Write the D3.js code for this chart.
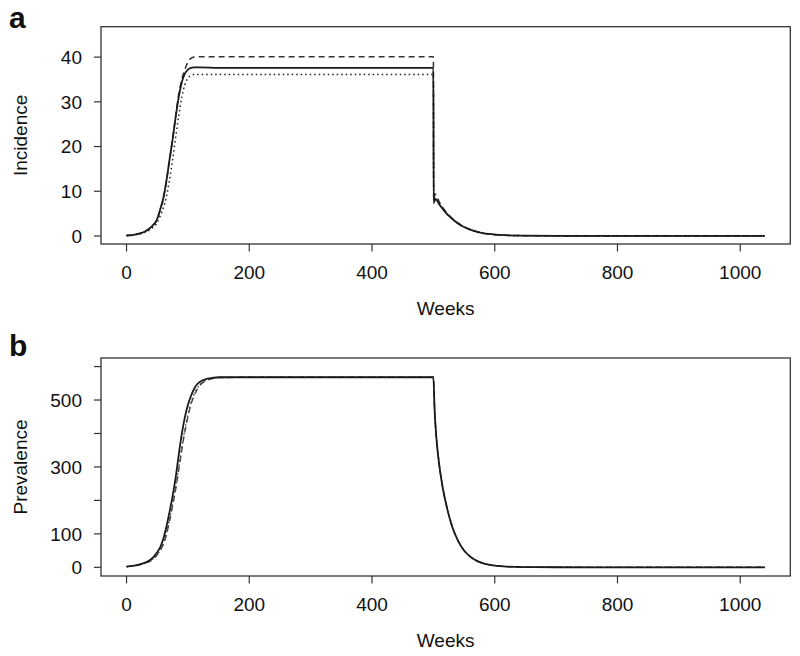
<!DOCTYPE html>
<html>
<head>
<meta charset="utf-8">
<script src="https://cdn.jsdelivr.net/npm/d3@7"></script>
<style>
  html, body { margin: 0; padding: 0; background: #fff; }
  svg { display: block; }
  text { font-family: "Liberation Sans", Arial, Helvetica, sans-serif; fill: #111; }
</style>
</head>
<body>
<svg id="chart" width="800" height="656"></svg>
<script>
// ---------- DATA ----------
const xTicks = [0, 200, 400, 600, 800, 1000];

// Panel a: Incidence
const incWeeks  = [0,10,20,30,40,50,55,60,65,70,75,80,85,90,95,100,105,110,120,150,300,500,500.5,503,510,520,530,540,550,560,570,580,590,600,620,650,700,800,1040];
const incSolid  = [0.1,0.2,0.5,1.0,2.0,3.8,6.0,8.5,12.3,17.0,21.5,26.5,31.0,34.3,36.3,37.2,37.6,37.7,37.7,37.6,37.6,37.6,7.3,8.3,7.0,5.2,3.9,2.8,2.0,1.4,0.95,0.65,0.45,0.3,0.15,0.06,0.02,0,0];
const incDashed = [0.1,0.2,0.5,1.0,2.0,3.7,5.9,8.3,12.2,16.9,21.6,26.8,31.7,35.0,37.2,38.9,39.7,40.0,40.1,40.1,40.1,40.1,8.0,9.4,7.5,5.5,4.0,2.9,2.05,1.45,1.0,0.68,0.46,0.31,0.15,0.06,0.02,0,0];
const incDotted = [0.1,0.2,0.4,0.8,1.6,3.0,4.5,6.3,8.8,12.5,17.0,22.0,26.8,31.0,33.8,35.3,35.9,36.1,36.1,36.1,36.1,36.1,7.6,8.4,7.1,5.3,3.9,2.8,2.0,1.4,0.95,0.65,0.45,0.3,0.15,0.06,0.02,0,0];
const incTicks  = [0, 10, 20, 30, 40];

// Panel b: Prevalence
const prevWeeks  = [0,10,20,30,40,50,55,60,65,70,75,80,85,90,95,100,105,110,115,120,130,140,150,200,300,500,502,505,510,515,520,530,540,550,560,570,580,590,600,620,650,700,800,1040];
const prevSolid  = [2,4,8,14,24,45,60,85,121,165,212,268,335,398,448,485,512,533,547,555,563,566,568,568,568,568,470,385,300,240,195,125,80,50,32,20,12.5,8,5,2,0.5,0.1,0,0];
const prevDashed = [2,3.5,7,12,20,37,50,68,97,138,183,232,290,350,405,450,487,512,532,545,558,564,567,568,568,568,470,385,300,240,195,125,80,50,32,20,12.5,8,5,2,0.5,0.1,0,0];
const prevDotted = [2,3.5,7,12,21,38,52,72,102,143,190,240,298,357,412,456,492,517,535,547,559,565,567,568,568,568,472,388,303,242,197,127,81,51,33,21,13,8.2,5.1,2.1,0.5,0.1,0,0];
const prevTicks  = [0, 100, 200, 300, 400, 500, 600];
const prevTickLabels = [0, 100, 300, 500];

// ---------- DRAW ----------
const svg = d3.select("#chart");
const FS = 19;

function panel(opts) {
  const g = svg.append("g");
  const x = d3.scaleLinear().domain([-41.6, 1081.6]).range([101, 790.3]);
  const y = d3.scaleLinear().domain(opts.yDomain).range([opts.bottom, opts.top]);

  // box
  g.append("rect")
    .attr("x", x.range()[0]).attr("y", opts.top)
    .attr("width", x.range()[1] - x.range()[0]).attr("height", opts.bottom - opts.top)
    .attr("fill", "none").attr("stroke", "#333").attr("stroke-width", 1.3);

  // x axis ticks
  g.selectAll(".xt").data(xTicks).enter().append("line")
    .attr("x1", d => x(d)).attr("x2", d => x(d))
    .attr("y1", opts.bottom).attr("y2", opts.bottom + 7.5)
    .attr("stroke", "#333").attr("stroke-width", 1.2);
  g.selectAll(".xl").data(xTicks).enter().append("text")
    .attr("x", d => x(d)).attr("y", opts.bottom + 34.5)
    .attr("text-anchor", "middle").attr("font-size", FS)
    .text(d => d);

  // y axis ticks
  g.selectAll(".yt").data(opts.yTicks).enter().append("line")
    .attr("x1", x.range()[0] - 7).attr("x2", x.range()[0])
    .attr("y1", d => y(d)).attr("y2", d => y(d))
    .attr("stroke", "#333").attr("stroke-width", 1.2);
  g.selectAll(".yl").data(opts.yLabels).enter().append("text")
    .attr("x", 82).attr("y", d => y(d))
    .attr("dy", "0.36em")
    .attr("text-anchor", "end").attr("font-size", FS)
    .text(d => d);

  // axis titles
  g.append("text")
    .attr("x", (x.range()[0] + x.range()[1]) / 2).attr("y", opts.bottom + 70.5)
    .attr("text-anchor", "middle").attr("font-size", FS)
    .text("Weeks");
  const cy = (opts.top + opts.bottom) / 2;
  g.append("text")
    .attr("transform", `translate(27,${cy}) rotate(-90)`)
    .attr("text-anchor", "middle").attr("font-size", FS)
    .text(opts.yTitle);

  // panel letter
  g.append("text")
    .attr("x", 9).attr("y", opts.letterY)
    .attr("font-size", 30).attr("font-weight", "bold")
    .text(opts.letter);

  const line = d3.line().x(d => x(d[0])).y(d => y(d[1])).curve(d3.curveMonotoneX);
  opts.series.forEach(s => {
    const pts = opts.weeks.map((w, i) => [w, s.values[i]]);
    g.append("path").datum(pts)
      .attr("d", line)
      .attr("fill", "none")
      .attr("stroke", s.color)
      .attr("stroke-width", s.width)
      .attr("stroke-dasharray", s.dash)
      .attr("stroke-linejoin", "round");
  });
}

panel({
  top: 26.7, bottom: 244, yDomain: [-1.8, 46.8],
  yTicks: incTicks, yLabels: incTicks, yTitle: "Incidence",
  letter: "a", letterY: 28,
  weeks: incWeeks,
  series: [
    { values: incDotted, dash: "1.5,3", color: "#222", width: 1.5 },
    { values: incDashed, dash: "6,4", color: "#333", width: 1.5 },
    { values: incSolid, dash: null, color: "#1a1a1a", width: 1.8 }
  ]
});

panel({
  top: 358, bottom: 576, yDomain: [-26, 625.6],
  yTicks: prevTicks, yLabels: prevTickLabels, yTitle: "Prevalence",
  letter: "b", letterY: 356,
  weeks: prevWeeks,
  series: [
    { values: prevDotted, dash: "1.5,3", color: "#444", width: 1.4 },
    { values: prevDashed, dash: "6,4", color: "#444", width: 1.4 },
    { values: prevSolid, dash: null, color: "#1a1a1a", width: 1.8 }
  ]
});
</script>
</body>
</html>
